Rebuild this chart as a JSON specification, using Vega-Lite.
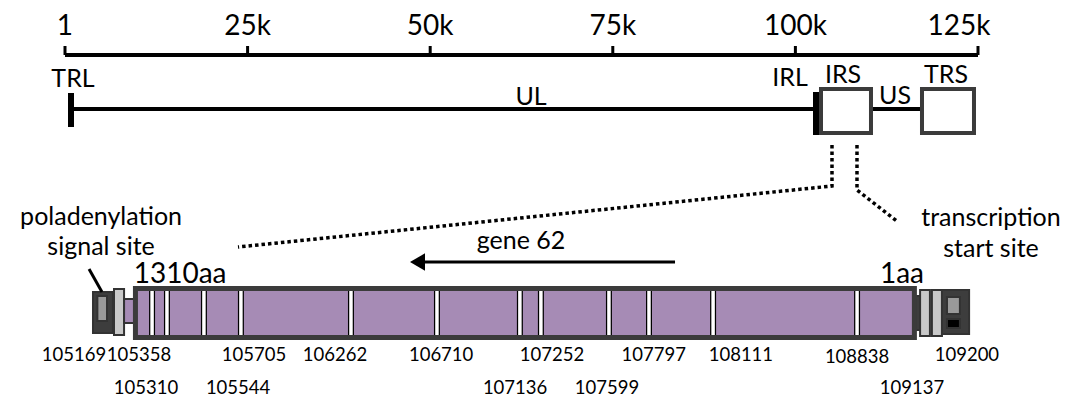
{
  "$schema": "https://vega.github.io/schema/vega-lite/v6.json",
  "width": 1068,
  "height": 400,
  "padding": 0,
  "autosize": {"type": "fit", "contains": "padding"},
  "background": "white",
  "config": {"view": {"stroke": null}, "text": {"font": "Lato", "color": "#000"}},
  "datasets": {
    "ruler": [{"x": 1, "x2": 125000, "y": 55}],
    "ticks": [
      {"x": 1, "label": "1", "y": 46, "y2": 55, "ly": 35},
      {"x": 25000, "label": "25k", "y": 46, "y2": 55, "ly": 35},
      {"x": 50000, "label": "50k", "y": 46, "y2": 55, "ly": 35},
      {"x": 75000, "label": "75k", "y": 46, "y2": 55, "ly": 35},
      {"x": 100000, "label": "100k", "y": 46, "y2": 55, "ly": 35},
      {"x": 125000, "label": "125k", "y": 46, "y2": 55, "ly": 35}
    ],
    "segments": [
      {"region": "UL", "x": 1232, "x2": 102410, "y": 109},
      {"region": "US", "x": 110624, "x2": 117059, "y": 109}
    ],
    "bars": [
      {"region": "TRL", "x": 411, "x2": 1232, "y": 93, "y2": 127},
      {"region": "IRL", "x": 102410, "x2": 103231, "y": 92, "y2": 135}
    ],
    "boxes": [
      {"region": "IRS", "x": 103505, "x2": 110350, "y": 89, "y2": 133},
      {"region": "TRS", "x": 117333, "x2": 124452, "y": 89, "y2": 133}
    ],
    "regionLabels": [
      {"label": "TRL", "x": 1095, "y": 87},
      {"label": "UL", "x": 63800, "y": 105},
      {"label": "IRL", "x": 99261, "y": 86},
      {"label": "IRS", "x": 106517, "y": 83},
      {"label": "US", "x": 113636, "y": 104},
      {"label": "TRS", "x": 120619, "y": 83}
    ],
    "zoomLines": [
      {"id": "left", "o": 1, "x": 105011, "y": 145},
      {"id": "left", "o": 2, "x": 105011, "y": 186},
      {"id": "left", "o": 3, "x": 23686, "y": 247},
      {"id": "right", "o": 1, "x": 108434, "y": 145},
      {"id": "right", "o": 2, "x": 108434, "y": 190},
      {"id": "right", "o": 3, "x": 114047, "y": 222}
    ],
    "gene": [{"x": 105363, "x2": 108923, "y": 288.5, "y2": 337.5}],
    "parts": [
      {"kind": "dark", "x": 105169, "x2": 105260, "y": 292, "y2": 333},
      {"kind": "mid", "x": 105189, "x2": 105233, "y": 296, "y2": 321},
      {"kind": "light", "x": 105265, "x2": 105311, "y": 289, "y2": 335},
      {"kind": "purple", "x": 105311, "x2": 105360, "y": 299, "y2": 323},
      {"kind": "dark", "x": 108930, "x2": 108958, "y": 296, "y2": 330},
      {"kind": "light", "x": 108949, "x2": 108994, "y": 290, "y2": 336},
      {"kind": "light", "x": 109003, "x2": 109049, "y": 290, "y2": 336},
      {"kind": "dark", "x": 109049, "x2": 109173, "y": 290, "y2": 334},
      {"kind": "mid", "x": 109072, "x2": 109131, "y": 297, "y2": 314},
      {"kind": "black", "x": 109072, "x2": 109131, "y": 319, "y2": 328}
    ],
    "exons": [
      {"x": 105439, "y": 291, "y2": 335},
      {"x": 105507, "y": 291, "y2": 335},
      {"x": 105676, "y": 291, "y2": 335},
      {"x": 105845, "y": 291, "y2": 335},
      {"x": 106348, "y": 291, "y2": 335},
      {"x": 106741, "y": 291, "y2": 335},
      {"x": 107120, "y": 291, "y2": 335},
      {"x": 107216, "y": 291, "y2": 335},
      {"x": 107527, "y": 291, "y2": 335},
      {"x": 107710, "y": 291, "y2": 335},
      {"x": 108003, "y": 291, "y2": 335},
      {"x": 108661, "y": 291, "y2": 335}
    ],
    "arrow": [{"x": 107829, "x2": 106680, "y": 262}],
    "arrowHead": [{"x": 106652, "y": 262}],
    "pointer": [{"x": 105151, "x2": 105210, "y": 269, "y2": 292}],
    "sites": [
      {"label": "105169", "x": 105082, "y": 361},
      {"label": "105358", "x": 105379, "y": 361},
      {"label": "105705", "x": 105905, "y": 361},
      {"label": "106262", "x": 106275, "y": 361},
      {"label": "106710", "x": 106760, "y": 361},
      {"label": "107252", "x": 107267, "y": 361},
      {"label": "107797", "x": 107732, "y": 361},
      {"label": "108111", "x": 108130, "y": 361},
      {"label": "108838", "x": 108661, "y": 363},
      {"label": "109200", "x": 109163, "y": 361},
      {"label": "105310", "x": 105411, "y": 394},
      {"label": "105544", "x": 105832, "y": 394},
      {"label": "107136", "x": 107098, "y": 394},
      {"label": "107599", "x": 107518, "y": 394},
      {"label": "109137", "x": 108912, "y": 394}
    ],
    "aaLabels": [
      {"label": "1310aa", "x": 105567, "y": 283},
      {"label": "1aa", "x": 108866, "y": 283}
    ],
    "notes": [
      {"label": "gene 62", "x": 107125, "y": 249},
      {"label": "poladenylation", "x": 105206, "y": 225},
      {"label": "signal site", "x": 105206, "y": 255},
      {"label": "transcription", "x": 109273, "y": 226},
      {"label": "start site", "x": 109273, "y": 257}
    ]
  },
  "encoding": {
    "y": {"field": "y", "type": "quantitative", "scale": {"domain": [0, 400], "reverse": true, "nice": false, "zero": false}, "axis": null}
  },
  "layer": [
    {
      "encoding": {
        "x": {"field": "x", "type": "quantitative", "scale": {"domain": [-8898, 137323], "nice": false, "zero": false}, "axis": null}
      },
      "layer": [
        {"data": {"name": "ruler"}, "mark": {"type": "rule", "strokeWidth": 4, "color": "black"}, "encoding": {"x2": {"field": "x2"}}},
        {"data": {"name": "ticks"}, "mark": {"type": "rule", "strokeWidth": 3, "color": "black"}, "encoding": {"y2": {"field": "y2"}}},
        {"data": {"name": "ticks"}, "transform": [{"filter": "datum.x < 125000"}], "mark": {"type": "text", "fontSize": 28, "align": "center", "baseline": "alphabetic"}, "encoding": {"y": {"field": "ly", "type": "quantitative"}, "text": {"field": "label"}}},
        {"data": {"name": "ticks"}, "transform": [{"filter": "datum.x == 125000"}], "mark": {"type": "text", "fontSize": 28, "align": "center", "baseline": "alphabetic", "dx": -19}, "encoding": {"y": {"field": "ly", "type": "quantitative"}, "text": {"field": "label"}}},
        {"data": {"name": "segments"}, "mark": {"type": "rule", "strokeWidth": 4, "color": "black"}, "encoding": {"x2": {"field": "x2"}}},
        {"data": {"name": "bars"}, "mark": {"type": "rect", "color": "black"}, "encoding": {"x2": {"field": "x2"}, "y2": {"field": "y2"}}},
        {"data": {"name": "boxes"}, "mark": {"type": "rect", "fill": "white", "stroke": "#3b3b3b", "strokeWidth": 4}, "encoding": {"x2": {"field": "x2"}, "y2": {"field": "y2"}}},
        {"data": {"name": "regionLabels"}, "mark": {"type": "text", "fontSize": 25, "align": "center", "baseline": "alphabetic"}, "encoding": {"text": {"field": "label"}}},
        {"data": {"name": "zoomLines"}, "mark": {"type": "line", "strokeDash": [3.5, 3], "strokeWidth": 3.5, "color": "black", "strokeCap": "butt"}, "encoding": {"detail": {"field": "id"}, "order": {"field": "o", "type": "quantitative"}}}
      ]
    },
    {
      "encoding": {
        "x": {"field": "x", "type": "quantitative", "scale": {"domain": [104744, 109625], "nice": false, "zero": false}, "axis": null}
      },
      "layer": [
        {"data": {"name": "parts"}, "mark": {"type": "rect", "stroke": "#333333", "strokeWidth": 2}, "encoding": {"x2": {"field": "x2"}, "y2": {"field": "y2"}, "fill": {"field": "kind", "type": "nominal", "scale": {"domain": ["dark", "mid", "light", "purple", "black"], "range": ["#3d3d3d", "#9a9a9a", "#c9c9c9", "#a68bb5", "#000000"]}, "legend": null}}},
        {"data": {"name": "gene"}, "mark": {"type": "rect", "fill": "#a68bb5", "stroke": "#3b3b3b", "strokeWidth": 5}, "encoding": {"x2": {"field": "x2"}, "y2": {"field": "y2"}}},
        {"data": {"name": "exons"}, "mark": {"type": "rule", "strokeWidth": 6, "color": "black"}, "encoding": {"y2": {"field": "y2"}}},
        {"data": {"name": "exons"}, "mark": {"type": "rule", "strokeWidth": 3.5, "color": "white"}, "encoding": {"y2": {"field": "y2"}}},
        {"data": {"name": "arrow"}, "mark": {"type": "rule", "strokeWidth": 3, "color": "black"}, "encoding": {"x2": {"field": "x2"}}},
        {"data": {"name": "arrowHead"}, "mark": {"type": "point", "shape": "triangle-left", "filled": true, "size": 300, "color": "black", "opacity": 1}},
        {"data": {"name": "pointer"}, "mark": {"type": "rule", "strokeWidth": 3, "color": "black"}, "encoding": {"x2": {"field": "x2"}, "y2": {"field": "y2"}}},
        {"data": {"name": "sites"}, "mark": {"type": "text", "fontSize": 18.5, "align": "center", "baseline": "alphabetic"}, "encoding": {"text": {"field": "label"}}},
        {"data": {"name": "aaLabels"}, "mark": {"type": "text", "fontSize": 28, "align": "center", "baseline": "alphabetic"}, "encoding": {"text": {"field": "label"}}},
        {"data": {"name": "notes"}, "mark": {"type": "text", "fontSize": 25, "align": "center", "baseline": "alphabetic"}, "encoding": {"text": {"field": "label"}}}
      ]
    }
  ],
  "resolve": {"scale": {"x": "independent"}}
}
